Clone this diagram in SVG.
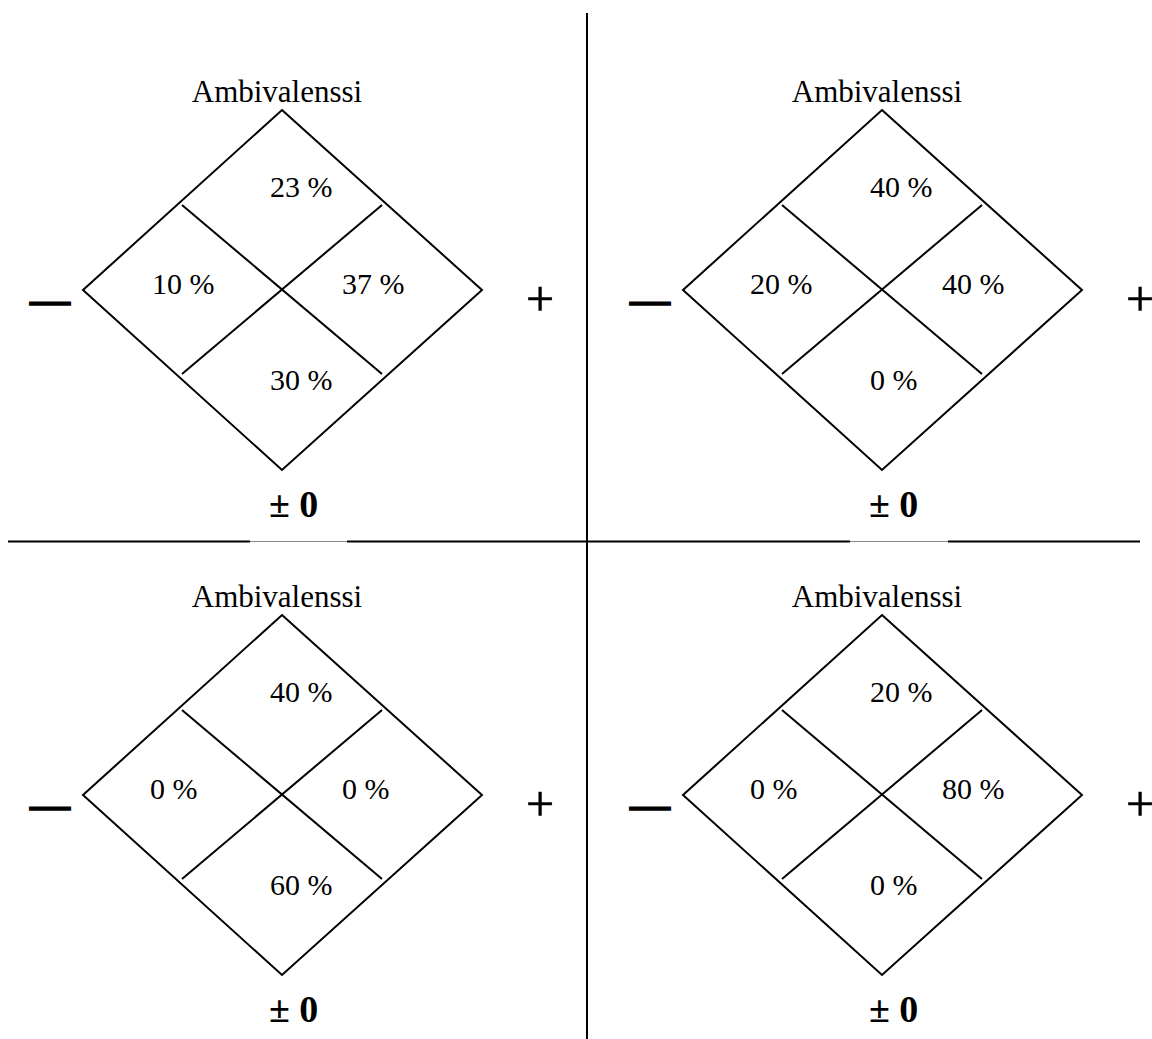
<svg xmlns="http://www.w3.org/2000/svg" width="1152" height="1039" viewBox="0 0 1152 1039">
<style>
.ln{stroke:#000;stroke-width:2;fill:none}
.t{font-family:"Liberation Serif","Times New Roman",serif;fill:#000}
.amb{font-size:31px;text-anchor:middle}
.pct{font-size:30px}
.zero{font-size:38px;font-weight:bold}
.minus{font-size:40px;font-weight:bold;stroke:#000;stroke-width:1.5}
.plus{font-size:50px;text-anchor:middle;stroke:#000;stroke-width:0.6}
</style>
<defs>
<g id="dia">
<path class="ln" d="M282,110 L482,290 L282,470 L83,290 Z"/>
<line class="ln" x1="182" y1="205" x2="382" y2="374"/>
<line class="ln" x1="382" y1="205" x2="182" y2="374"/>
<text class="t amb" x="277" y="102">Ambivalenssi</text>
<text class="t minus" x="30" y="313">—</text>
<text class="t plus" x="540" y="316">+</text>
<text class="t zero" x="269" y="517">± 0</text>
</g>
</defs>
<g id="connectors">
<line class="ln" x1="587" y1="13" x2="587" y2="1039"/>
<line class="ln" x1="8" y1="541.5" x2="250" y2="541.5"/>
<line x1="250" y1="541.5" x2="347" y2="541.5" stroke="#888" stroke-width="1"/>
<line class="ln" x1="347" y1="541.5" x2="850" y2="541.5"/>
<line x1="850" y1="541.5" x2="948" y2="541.5" stroke="#888" stroke-width="1"/>
<line class="ln" x1="948" y1="541.5" x2="1140" y2="541.5"/>
</g>
<g id="node-top-left">
<use href="#dia"/>
<text class="t pct" x="270" y="197">23 %</text>
<text class="t pct" x="152" y="294">10 %</text>
<text class="t pct" x="342" y="294">37 %</text>
<text class="t pct" x="270" y="390">30 %</text>
</g>
<g id="node-top-right" transform="translate(600,0)">
<use href="#dia"/>
<text class="t pct" x="270" y="197">40 %</text>
<text class="t pct" x="150" y="294">20 %</text>
<text class="t pct" x="342" y="294">40 %</text>
<text class="t pct" x="270" y="390">0 %</text>
</g>
<g id="node-bottom-left" transform="translate(0,505)">
<use href="#dia"/>
<text class="t pct" x="270" y="197">40 %</text>
<text class="t pct" x="150" y="294">0 %</text>
<text class="t pct" x="342" y="294">0 %</text>
<text class="t pct" x="270" y="390">60 %</text>
</g>
<g id="node-bottom-right" transform="translate(600,505)">
<use href="#dia"/>
<text class="t pct" x="270" y="197">20 %</text>
<text class="t pct" x="150" y="294">0 %</text>
<text class="t pct" x="342" y="294">80 %</text>
<text class="t pct" x="270" y="390">0 %</text>
</g>
</svg>
